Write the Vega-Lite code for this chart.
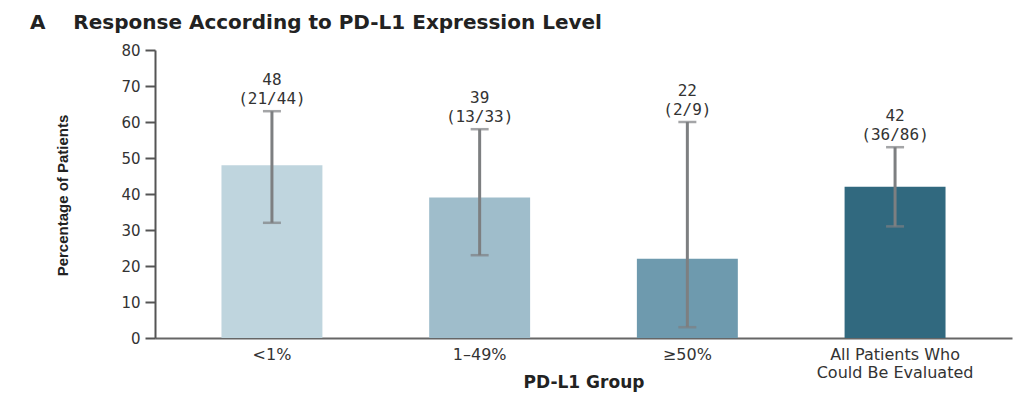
{
  "$schema": "https://vega.github.io/schema/vega-lite/v6.json",
  "autosize": {"type": "none"},
  "width": 857,
  "height": 288,
  "padding": {"left": 155, "top": 50, "right": 24, "bottom": 64},
  "background": "white",
  "config": {
    "view": {"stroke": null},
    "axisY": {
      "grid": false,
      "labelFont": "DejaVu Sans",
      "labelFontSize": 15,
      "labelColor": "#333333",
      "labelPadding": 5,
      "labelOverlap": false,
      "tickSize": 10,
      "tickWidth": 2,
      "tickColor": "#555555",
      "domainColor": "#555555",
      "domainWidth": 2,
      "titleFont": "Liberation Sans",
      "titleFontSize": 15,
      "titleFontWeight": "bold",
      "titleColor": "#222222",
      "titleAngle": -90,
      "titleBaseline": "middle",
      "titleAlign": "center",
      "titleX": -93,
      "titleY": 145
    }
  },
  "title": {
    "text": "A\u00a0\u00a0\u00a0\u00a0Response According to PD-L1 Expression Level",
    "anchor": "start",
    "frame": "group",
    "dx": -125,
    "offset": -6,
    "baseline": "alphabetic",
    "font": "DejaVu Sans",
    "fontSize": 20,
    "fontWeight": "bold",
    "color": "#222222"
  },
  "data": {
    "values": [
      {"group": "<1%", "pct": 48, "lower": 32, "upper": 63, "label": "48\n(21/44)"},
      {"group": "1–49%", "pct": 39, "lower": 23, "upper": 58, "label": "39\n(13/33)"},
      {"group": "≥50%", "pct": 22, "lower": 3, "upper": 60, "label": "22\n(2/9)"},
      {"group": "All Patients Who\nCould Be Evaluated", "pct": 42, "lower": 31, "upper": 53, "label": "42\n(36/86)"}
    ]
  },
  "encoding": {
    "x": {
      "field": "group",
      "type": "nominal",
      "sort": null,
      "scale": {"paddingInner": 0.514, "paddingOuter": 0.32},
      "axis": {
        "title": "PD-L1 Group",
        "labelAngle": 0,
        "labelExpr": "split(datum.label, '\\n')",
        "labelFont": "DejaVu Sans",
        "labelFontSize": 16,
        "labelLineHeight": 18,
        "labelColor": "#333333",
        "labelPadding": 8,
        "labelBaseline": "top",
        "ticks": false,
        "domainColor": "#666666",
        "domainWidth": 2,
        "titleFont": "DejaVu Sans",
        "titleFontSize": 17,
        "titleFontWeight": "bold",
        "titleColor": "#222222",
        "titleBaseline": "middle",
        "titleY": 44
      }
    }
  },
  "layer": [
    {
      "mark": {"type": "bar"},
      "encoding": {
        "y": {
          "field": "pct",
          "type": "quantitative",
          "scale": {"domain": [0, 80], "nice": false},
          "axis": {"title": "Percentage of Patients", "values": [0, 10, 20, 30, 40, 50, 60, 70, 80]}
        },
        "color": {
          "field": "group",
          "type": "nominal",
          "sort": null,
          "scale": {
            "domain": ["<1%", "1–49%", "≥50%", "All Patients Who\nCould Be Evaluated"],
            "range": ["#bfd5de", "#9fbdcb", "#6e9aae", "#31697f"]
          },
          "legend": null
        }
      }
    },
    {
      "mark": {"type": "rule", "color": "#7d7f81", "strokeWidth": 3},
      "encoding": {
        "y": {"field": "lower", "type": "quantitative", "axis": {"title": "Percentage of Patients", "values": [0, 10, 20, 30, 40, 50, 60, 70, 80]}},
        "y2": {"field": "upper"}
      }
    },
    {
      "mark": {"type": "tick", "color": "#7d7f81", "thickness": 2.5, "size": 18},
      "encoding": {
        "y": {"field": "lower", "type": "quantitative", "axis": {"title": "Percentage of Patients", "values": [0, 10, 20, 30, 40, 50, 60, 70, 80]}}
      }
    },
    {
      "mark": {"type": "tick", "color": "#7d7f81", "thickness": 2.5, "size": 18},
      "encoding": {
        "y": {"field": "upper", "type": "quantitative", "axis": {"title": "Percentage of Patients", "values": [0, 10, 20, 30, 40, 50, 60, 70, 80]}}
      }
    },
    {
      "mark": {
        "type": "text",
        "baseline": "bottom",
        "dy": -23,
        "font": "DejaVu Sans Mono",
        "fontSize": 16,
        "lineBreak": "\n",
        "lineHeight": 19,
        "color": "#333333"
      },
      "encoding": {
        "y": {"field": "upper", "type": "quantitative", "axis": {"title": "Percentage of Patients", "values": [0, 10, 20, 30, 40, 50, 60, 70, 80]}},
        "text": {"field": "label"}
      }
    }
  ]
}
